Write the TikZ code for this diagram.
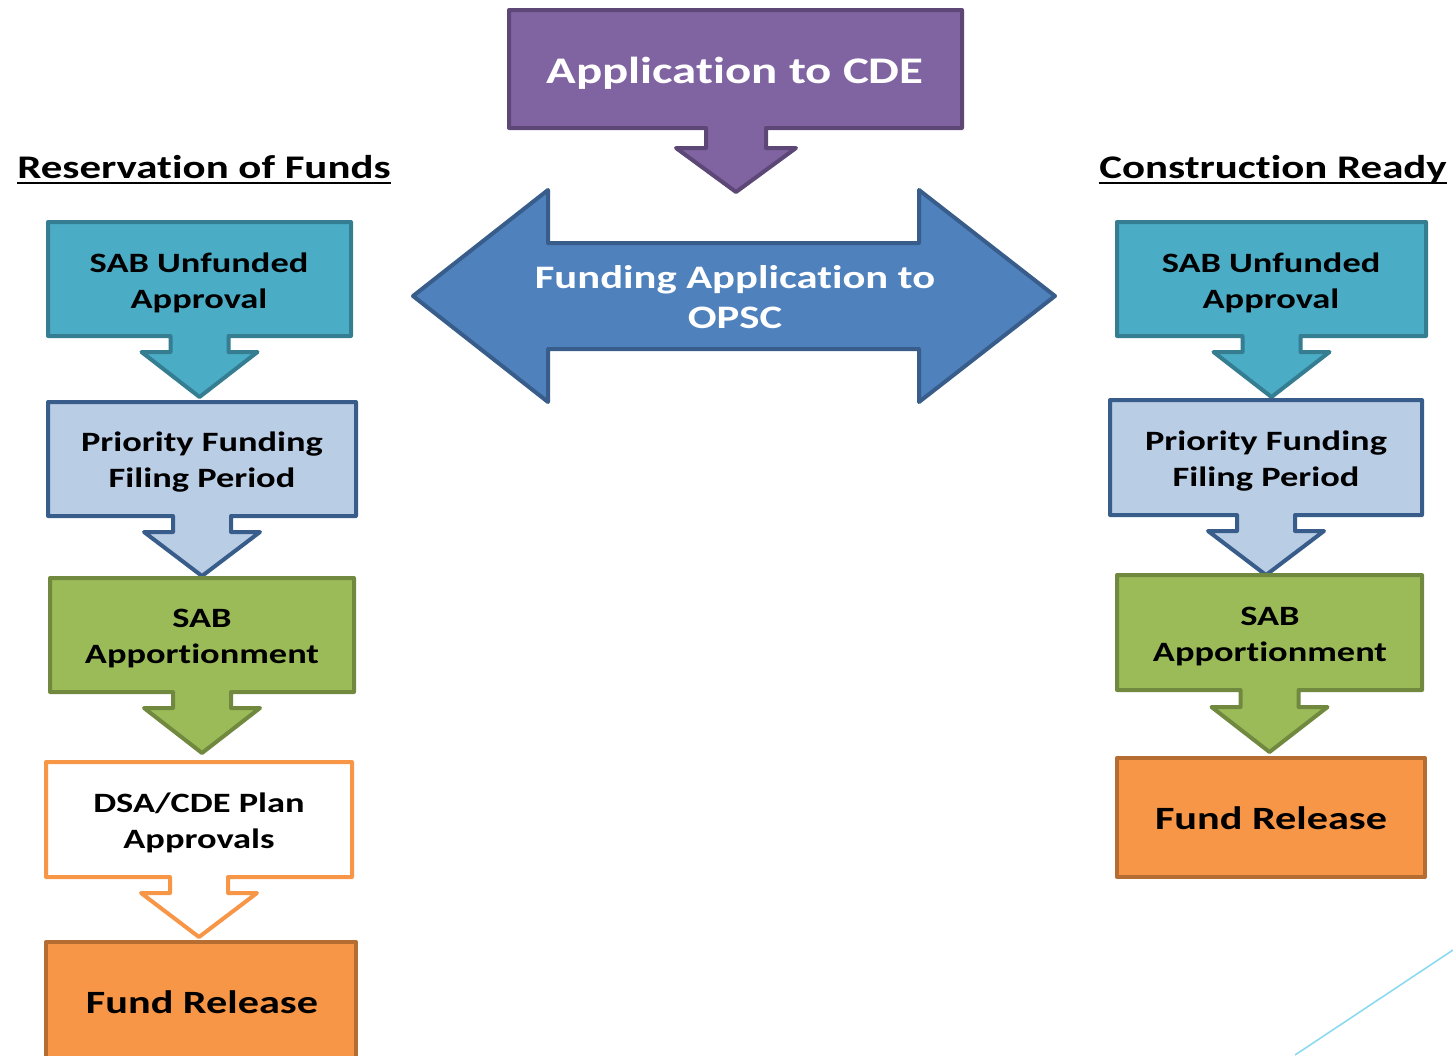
\documentclass[tikz,border=0pt]{standalone}
\usepackage{fontspec}
\setmainfont{Carlito}[FakeStretch=1.3, RawFeature={-liga;-clig;-calt;-dlig}]
\definecolor{purpleF}{HTML}{8064A2}\definecolor{purpleD}{HTML}{5C4776}
\definecolor{blueF}{HTML}{4F81BD}\definecolor{blueD}{HTML}{385D8A}
\definecolor{tealF}{HTML}{4BACC6}\definecolor{tealD}{HTML}{357D91}
\definecolor{lblueF}{HTML}{B9CDE5}
\definecolor{greenF}{HTML}{9BBB59}\definecolor{greenD}{HTML}{71893F}
\definecolor{orangeF}{HTML}{F79646}\definecolor{orangeD}{HTML}{B66D31}
\definecolor{cyanL}{HTML}{8DD9F0}
\newcommand\tik{t\kern0pt i}
\tikzset{
  shp/.style={line width=4pt, line join=round},
  tealbox/.style={shp, fill=tealF, draw=tealD},
  lbluebox/.style={shp, fill=lblueF, draw=blueD},
  greenbox/.style={shp, fill=greenF, draw=greenD},
  whitebox/.style={shp, fill=white, draw=orangeF},
  orangebox/.style={shp, fill=orangeF, draw=orangeD},
  lbl/.style={align=center, inner sep=0pt, font=\bfseries\fontsize{28}{36}\selectfont},
  biglbl/.style={lbl, font=\bfseries\fontsize{32.5}{40}\selectfont},
  head/.style={inner sep=0pt, anchor=base, font=\bfseries\fontsize{33}{36}\selectfont},
  uline/.style={line width=2.5pt, black},
}
\newcommand\dcallout[7]{%
  \draw[#7] (#1,#2) -- (#3,#2) -- (#3,#4)
    -- ({(#1+#3)/2+29},#4) -- ({(#1+#3)/2+29},#5) -- ({(#1+#3)/2+58},#5)
    -- ({(#1+#3)/2},#6) -- ({(#1+#3)/2-58},#5) -- ({(#1+#3)/2-29},#5)
    -- ({(#1+#3)/2-29},#4) -- (#1,#4) -- cycle;}
\begin{document}
\begin{tikzpicture}[x=1pt,y=-1pt]
\useasboundingbox (0,0) rectangle (1453,1055);
\clip (0,0) rectangle (1453,1055);
% top purple callout
\draw[shp, fill=purpleF, draw=purpleD] (509,10) -- (962,10) -- (962,128)
  -- (766,128) -- (766,148) -- (796,148) -- (736,192) -- (676,148)
  -- (706,148) -- (706,128) -- (509,128) -- cycle;
\node[lbl, text=white, font=\bfseries\fontsize{37.6}{44}\selectfont] (cde) at (735,73) {Applica\tik on to CDE};
% double arrow
\draw[shp, fill=blueF, draw=blueD] (413,296) -- (548,190) -- (548,243) -- (919,243)
  -- (919,190) -- (1055,296) -- (919,402) -- (919,349) -- (548,349) -- (548,402) -- cycle;
\node[lbl, text=white, font=\bfseries\fontsize{32.8}{40}\selectfont] (opsc) at (735,297) {Funding Applica\tik on to\\OPSC};
% headings
\node[head] (res) at (204,178) {Reserva\tik on of Funds};
\draw[uline] ([yshift=-5pt]res.base west) -- ([yshift=-5pt]res.base east);
\node[head] (cr) at (1273,178) {Construc\tik on Ready};
\draw[uline] ([yshift=-5pt]cr.base west) -- ([yshift=-5pt]cr.base east);
% left column
\dcallout{48}{222}{351}{336}{352}{397}{tealbox}
\dcallout{48}{402}{356}{516}{532}{576}{lbluebox}
\dcallout{50}{578}{354}{692}{708}{753}{greenbox}
\dcallout{46}{762}{352}{877}{893}{937}{whitebox}
\draw[orangebox] (46,942) rectangle (356,1075);
\node[lbl] (l1) at (199,283) {SAB Unfunded\\Approval};
\node[lbl] (l2) at (202,462) {Priority Funding\\Filing Period};
\node[lbl] (l3) at (202,639) {SAB\\Appor\tik onment};
\node[lbl] (l4) at (199,823) {DSA/CDE Plan\\Approvals};
\node[biglbl] (l5) at (202,1002) {Fund Release};
% right column
\dcallout{1117}{222}{1426}{336}{352}{397}{tealbox}
\dcallout{1110}{400}{1422}{515}{531}{575}{lbluebox}
\dcallout{1117}{575}{1422}{690}{707}{752}{greenbox}
\draw[orangebox] (1117,758) rectangle (1425,877);
\node[lbl] (r1) at (1271,283) {SAB Unfunded\\Approval};
\node[lbl] (r2) at (1266,461) {Priority Funding\\Filing Period};
\node[lbl] (r3) at (1270,637) {SAB\\Appor\tik onment};
\node[biglbl] (r4) at (1271,818) {Fund Release};
% decorative line
\coordinate (dA) at (1295,1055);
\coordinate (dB) at (1453,950);
\draw[cyanL, line width=1.6pt] (dA) -- (dB);
\end{tikzpicture}
\end{document}
